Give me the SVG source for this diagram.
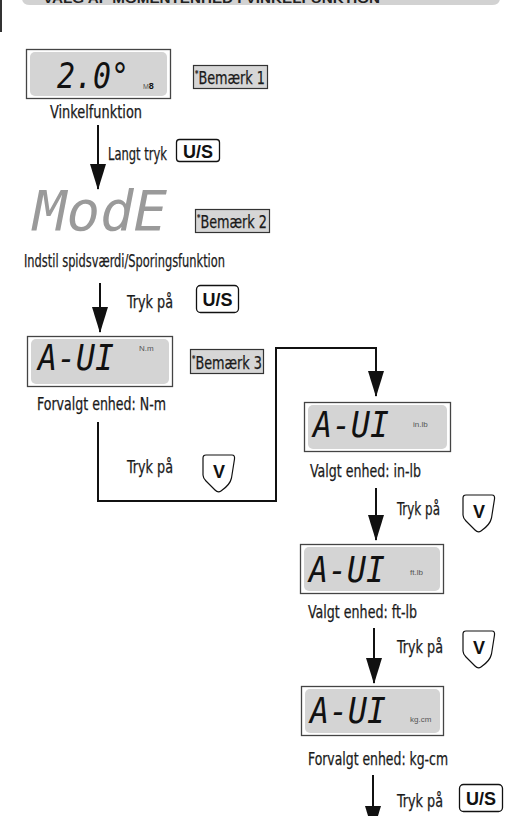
<svg xmlns="http://www.w3.org/2000/svg" width="513" height="816" viewBox="0 0 513 816">
<style>
.lbl{font-family:"DejaVu Sans Condensed","Liberation Sans Narrow","Liberation Sans",sans-serif;font-size:17px;fill:#1a1a1a;stroke:#1a1a1a;stroke-width:0.25;}
.lcdo{fill:#fff;stroke:#444;stroke-width:1.3;}
.lcdi{fill:#d4d4d4;}
.seg{font-family:"DejaVu Sans Mono","Liberation Mono",monospace;font-style:italic;font-size:36px;fill:#111;}
.unit{font-family:"Liberation Sans",Arial,sans-serif;font-size:8px;fill:#555;}
.note{fill:#d6d6d6;stroke:#333;stroke-width:1.2;}
.notet{font-family:"DejaVu Sans Condensed","Liberation Sans Narrow",sans-serif;font-size:17px;fill:#1a1a1a;stroke:#1a1a1a;stroke-width:0.25;}
.btn{fill:#fff;stroke:#111;stroke-width:1.3;}
.btnt{font-family:"Liberation Sans",Arial,sans-serif;font-weight:bold;font-size:18px;fill:#111;}
.wire{fill:none;stroke:#111;stroke-width:2;}
</style>
<defs>
<marker id="av" markerWidth="26" markerHeight="16" refX="25" refY="8" orient="auto" markerUnits="userSpaceOnUse" viewBox="0 0 26 16">
<path d="M0,0 L26,8 L0,16 Z" fill="#111"/>
</marker>
<g id="vbtn">
<path d="M3,0 L29,0 Q32,0 31.5,4 L28.5,23 Q27,30 18,36 Q15,38 12,35 L3,26 Q0,23 0,20 L0,3 Q0,0 3,0 Z" fill="#fff" stroke="#111" stroke-width="1.2"/>
<text x="16" y="23" text-anchor="middle" class="btnt" font-size="19">V</text>
</g>
</defs>

<g id="header">
<line x1="1" y1="0" x2="1" y2="32" stroke="#333" stroke-width="2"/>
<path d="M22,-10 L500,-10 L500,-2 Q500,5 492,5 L30,5 Q22,5 22,-2 Z" fill="#d2d2d2"/>
<text x="43" y="3" font-family="Liberation Sans,Arial,sans-serif" font-weight="bold" font-size="13" fill="#222" textLength="337" lengthAdjust="spacingAndGlyphs">VALG AF MOMENTENHED I VINKELFUNKTION</text>
</g>

<g id="connectors">
<line class="wire" x1="98" y1="125" x2="98" y2="189" marker-end="url(#av)"/>
<line class="wire" x1="100" y1="283" x2="100" y2="332" marker-end="url(#av)"/>
<polyline class="wire" points="98,422 98,501 276,501 276,348 376,348 376,396" marker-end="url(#av)"/>
<line class="wire" x1="376" y1="488" x2="376" y2="540" marker-end="url(#av)"/>
<line class="wire" x1="374" y1="628" x2="374" y2="683" marker-end="url(#av)"/>
<line class="wire" x1="373" y1="775" x2="373" y2="831" marker-end="url(#av)"/>
</g>

<g id="n-vinkel">
<rect class="lcdo" x="26.5" y="49.5" width="144" height="49"/>
<rect class="lcdi" x="30" y="52" width="137" height="44" rx="5"/>
<text class="seg" x="57" y="88" font-size="42" textLength="72" lengthAdjust="spacingAndGlyphs">2.0°</text>
<text x="143" y="89" font-family="Liberation Sans,Arial,sans-serif" font-size="7" fill="#555">M<tspan font-size="9" fill="#111" font-weight="bold">8</tspan></text>
<text class="lbl" x="50" y="118" textLength="92" lengthAdjust="spacingAndGlyphs">Vinkelfunktion</text>
</g>
<g id="note1">
<rect class="note" x="193.5" y="65.5" width="74" height="23"/>
<text class="notet" x="195" y="84" textLength="70" lengthAdjust="spacingAndGlyphs"><tspan font-size="9" dy="-7">*</tspan><tspan dy="7">Bemærk 1</tspan></text>
</g>

<g id="e1">
<text class="lbl" x="108" y="160" font-size="16" textLength="59" lengthAdjust="spacingAndGlyphs">Langt tryk</text>
<rect class="btn" x="176.5" y="139.5" width="43" height="22" rx="3"/>
<text class="btnt" x="198" y="157.5" text-anchor="middle">U/S</text>
</g>

<g id="n-mode">
<text x="33" y="230" font-family="DejaVu Sans Mono,monospace" font-style="italic" font-size="55" fill="#9a9a9a" textLength="134" lengthAdjust="spacingAndGlyphs">ModE</text>
<text class="lbl" x="24" y="267" textLength="201" lengthAdjust="spacingAndGlyphs">Indstil spidsværdi/Sporingsfunktion</text>
</g>
<g id="note2">
<rect class="note" x="195.5" y="209.5" width="74" height="23"/>
<text class="notet" x="197" y="228" textLength="70" lengthAdjust="spacingAndGlyphs"><tspan font-size="9" dy="-7">*</tspan><tspan dy="7">Bemærk 2</tspan></text>
</g>

<g id="e2">
<text class="lbl" x="127" y="308" textLength="46" lengthAdjust="spacingAndGlyphs">Tryk på</text>
<rect class="btn" x="196.5" y="285.5" width="42" height="27" rx="4"/>
<text class="btnt" x="217.5" y="305.5" text-anchor="middle">U/S</text>
</g>

<g id="n-nm">
<rect class="lcdo" x="27.5" y="336.5" width="145" height="50"/>
<rect class="lcdi" x="31" y="339" width="138" height="45" rx="5"/>
<text class="seg" x="38" y="370" textLength="76" lengthAdjust="spacingAndGlyphs">A-UI</text>
<text class="unit" x="139" y="351">N.m</text>
<text class="lbl" x="37" y="410" textLength="129" lengthAdjust="spacingAndGlyphs">Forvalgt enhed: N-m</text>
</g>
<g id="note3">
<rect class="note" x="190.5" y="349.5" width="73" height="24"/>
<text class="notet" x="192" y="368.5" textLength="70" lengthAdjust="spacingAndGlyphs"><tspan font-size="9" dy="-7">*</tspan><tspan dy="7">Bemærk 3</tspan></text>
</g>

<g id="e3">
<text class="lbl" x="127" y="473" textLength="46" lengthAdjust="spacingAndGlyphs">Tryk på</text>
<use href="#vbtn" x="203" y="455"/>
</g>

<g id="n-inlb">
<rect class="lcdo" x="304.5" y="402.5" width="146" height="49"/>
<rect class="lcdi" x="308" y="405" width="139" height="44" rx="5"/>
<text class="seg" x="313" y="437" textLength="76" lengthAdjust="spacingAndGlyphs">A-UI</text>
<text class="unit" x="413" y="427">in.lb</text>
<text class="lbl" x="310" y="477" textLength="111" lengthAdjust="spacingAndGlyphs">Valgt enhed: in-lb</text>
</g>

<g id="e4">
<text class="lbl" x="397" y="515" textLength="43" lengthAdjust="spacingAndGlyphs">Tryk på</text>
<use href="#vbtn" x="463" y="495"/>
</g>

<g id="n-ftlb">
<rect class="lcdo" x="300.5" y="544.5" width="143" height="49"/>
<rect class="lcdi" x="304" y="547" width="136" height="44" rx="5"/>
<text class="seg" x="309" y="582" textLength="76" lengthAdjust="spacingAndGlyphs">A-UI</text>
<text class="unit" x="410" y="575">ft.lb</text>
<text class="lbl" x="308" y="618" textLength="109" lengthAdjust="spacingAndGlyphs">Valgt enhed: ft-lb</text>
</g>

<g id="e5">
<text class="lbl" x="397" y="653" textLength="46" lengthAdjust="spacingAndGlyphs">Tryk på</text>
<use href="#vbtn" x="463" y="631"/>
</g>

<g id="n-kgcm">
<rect class="lcdo" x="301.5" y="686.5" width="142" height="49"/>
<rect class="lcdi" x="305" y="689" width="135" height="44" rx="5"/>
<text class="seg" x="310" y="723" textLength="76" lengthAdjust="spacingAndGlyphs">A-UI</text>
<text class="unit" x="410" y="722">kg.cm</text>
<text class="lbl" x="308" y="765" textLength="140" lengthAdjust="spacingAndGlyphs">Forvalgt enhed: kg-cm</text>
</g>

<g id="e6">
<text class="lbl" x="397" y="807" textLength="46" lengthAdjust="spacingAndGlyphs">Tryk på</text>
<rect class="btn" x="459.5" y="784.5" width="43" height="27" rx="4"/>
<text class="btnt" x="481" y="804.5" text-anchor="middle">U/S</text>
</g>
</svg>
